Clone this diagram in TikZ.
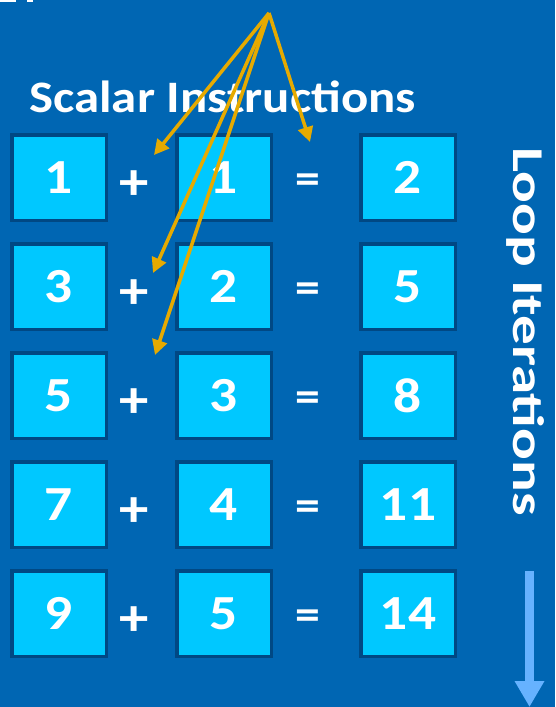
\documentclass[tikz,border=0pt]{standalone}
\usepackage{fontspec}
\setmainfont{Carlito}[FakeStretch=1.13]
\usetikzlibrary{arrows.meta}
\definecolor{bgblue}{RGB}{0,102,179}
\definecolor{cellfill}{RGB}{0,200,255}
\definecolor{celledge}{RGB}{0,72,132}
\definecolor{goldline}{RGB}{230,170,0}
\definecolor{loopblue}{RGB}{102,178,255}
\tikzset{
  cell/.style={rectangle, fill=cellfill, draw=celledge, line width=3.5pt,
    minimum width=94.5pt, minimum height=85.5pt, inner sep=0pt,
    text=white, font=\fontsize{49}{49}\selectfont\bfseries},
  plussym/.style={inner sep=0pt, text=white, font=\fontsize{52}{52}\selectfont\bfseries},
  eqsym/.style={inner sep=0pt, text=white, font=\fontsize{44}{44}\selectfont\bfseries},
  goldarrow/.style={draw=goldline, line width=3.5pt, -{Triangle[length=15pt,width=15pt]}},
  titletext/.style={inner sep=0pt, text=white, font=\fontsize{45}{45}\selectfont\bfseries}
}
\begin{document}
\begin{tikzpicture}[x=1pt,y=-1pt]
\fill[bgblue] (0,0) rectangle (555,707);
\useasboundingbox (0,0) rectangle (555,707);
\fill[white] (0,0) rectangle (16,1.5);
\fill[white] (27,0) rectangle (33,1.5);

\node[titletext, anchor=base west] (title) at (29,112) {Scalar Instructions};

% rows
\foreach \a/\b/\c/\i/\y in {1/1/2/1/177.5, 3/2/5/2/286.5, 5/3/8/3/395.5, 7/4/11/4/504.5, 9/5/14/5/613.5}{
  \node[cell] (a\i) at (59,\y) {\a};
  \node[cell] (b\i) at (224,\y) {\b};
  \node[cell] (c\i) at (408,\y) {\c};
  \node[plussym] (p\i) at (134.5,\y+8) {+};
  \node[eqsym] (e\i) at (307.5,\y+6.5) {=};
}

\node[titletext, rotate=-90, anchor=base west, font=\fontsize{44}{44}\selectfont\bfseries] (loop) at (513,147) {\scalebox{1.19}[1]{Loop Iterations}};

% loop arrow
\coordinate (ls) at (529.5,571);
\coordinate (le) at (529.5,707);
\draw[loopblue, line width=9.5pt, -{Triangle[length=26pt,width=28pt]}] (ls) -- (le);

% gold arrows
\coordinate (apex) at (269,13);
\coordinate (t1) at (154,155);
\coordinate (t2) at (153,273);
\coordinate (t3) at (155,355);
\coordinate (t4) at (310,142);
\draw[goldarrow] (apex) -- (t1);
\draw[goldarrow] (apex) -- (t2);
\draw[goldarrow] (apex) -- (t3);
\draw[goldarrow] (apex) -- (t4);
\end{tikzpicture}
\end{document}
